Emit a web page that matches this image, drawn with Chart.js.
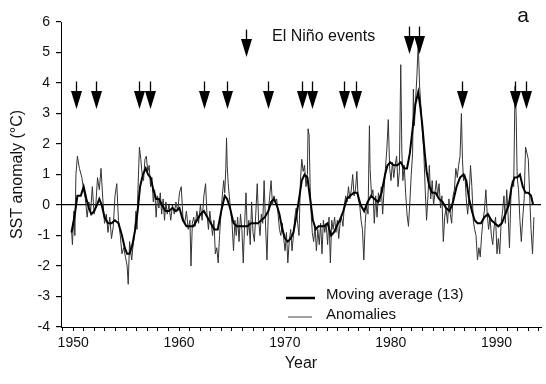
<!DOCTYPE html>
<html>
<head>
<meta charset="utf-8">
<title>SST anomaly</title>
<script src="https://cdn.jsdelivr.net/npm/chart.js@4.4.0/dist/chart.umd.min.js"></script>
<style>
  html, body { margin: 0; padding: 0; background: #fff; }
  #wrap { width: 546px; height: 384px; }
</style>
</head>
<body>
<div id="wrap"><canvas id="sstChart" width="546" height="384"></canvas></div>
<script>
// SST anomaly series (years as decimal years)

const anomYears = [
  1949.84, 1949.93, 1950.07, 1950.16, 1950.26, 1950.40, 1950.59, 1950.82, 1950.99,
  1951.15, 1951.32, 1951.48, 1951.65, 1951.81, 1951.98,
  1952.14, 1952.30, 1952.47, 1952.63, 1952.80, 1952.96,
  1953.13, 1953.29, 1953.46, 1953.62, 1953.79, 1953.95,
  1954.12, 1954.28, 1954.45, 1954.61, 1954.77, 1954.94,
  1955.10, 1955.20, 1955.33, 1955.53, 1955.66, 1955.80, 1955.93,
  1956.03, 1956.12, 1956.26, 1956.39, 1956.52, 1956.65, 1956.78, 1956.91,
  1957.05, 1957.18, 1957.31, 1957.44, 1957.57, 1957.70, 1957.84, 1957.97,
  1958.10, 1958.23, 1958.36, 1958.50, 1958.63, 1958.76, 1958.89,
  1959.05, 1959.22, 1959.38, 1959.55, 1959.71, 1959.88,
  1960.04, 1960.21, 1960.37, 1960.54, 1960.70, 1960.87,
  1961.03, 1961.13, 1961.26, 1961.39, 1961.52, 1961.69, 1961.85,
  1962.02, 1962.18, 1962.35, 1962.51, 1962.64, 1962.78, 1962.91,
  1963.04, 1963.17, 1963.30, 1963.43, 1963.57, 1963.70, 1963.83, 1963.96,
  1964.09, 1964.22, 1964.32, 1964.42, 1964.49, 1964.55, 1964.65, 1964.75, 1964.88,
  1965.01, 1965.15, 1965.28, 1965.41, 1965.54, 1965.67, 1965.81, 1965.94,
  1966.07, 1966.20, 1966.33, 1966.46, 1966.60, 1966.73, 1966.86, 1966.99,
  1967.12, 1967.25, 1967.39, 1967.52, 1967.65, 1967.78, 1967.91,
  1968.04, 1968.18, 1968.31, 1968.44, 1968.57, 1968.70, 1968.83, 1968.97,
  1969.10, 1969.23, 1969.36, 1969.49, 1969.62, 1969.76, 1969.89,
  1970.02, 1970.15, 1970.28, 1970.41, 1970.55, 1970.68, 1970.81, 1970.94,
  1971.07, 1971.21, 1971.34, 1971.47, 1971.60, 1971.73, 1971.86,
  1972.00, 1972.13, 1972.19, 1972.29, 1972.39, 1972.49, 1972.59, 1972.72, 1972.85, 1972.98,
  1973.11, 1973.25, 1973.38, 1973.51, 1973.64, 1973.77, 1973.90,
  1974.04, 1974.17, 1974.30, 1974.43, 1974.56, 1974.70, 1974.83, 1974.96,
  1975.09, 1975.22, 1975.35, 1975.49, 1975.62, 1975.75, 1975.88,
  1976.01, 1976.14, 1976.28, 1976.41, 1976.54, 1976.67, 1976.80, 1976.93,
  1977.07, 1977.20, 1977.33, 1977.46, 1977.59, 1977.72, 1977.86, 1977.99,
  1978.05, 1978.19, 1978.32, 1978.45, 1978.58, 1978.71, 1978.84, 1978.98,
  1979.11, 1979.24, 1979.37, 1979.50, 1979.63, 1979.77, 1979.90,
  1980.03, 1980.16, 1980.29, 1980.42, 1980.56, 1980.69, 1980.82, 1980.95,
  1981.05, 1981.15, 1981.28, 1981.41, 1981.54, 1981.68, 1981.81, 1981.94,
  1982.07, 1982.14, 1982.24, 1982.33, 1982.47, 1982.60, 1982.73, 1982.86, 1982.99,
  1983.12, 1983.26, 1983.39, 1983.52, 1983.65, 1983.78, 1983.92,
  1984.05, 1984.18, 1984.31, 1984.44, 1984.57, 1984.71, 1984.84, 1984.97,
  1985.10, 1985.23, 1985.37, 1985.50, 1985.63, 1985.76, 1985.89,
  1986.02, 1986.15, 1986.29, 1986.42, 1986.55, 1986.68, 1986.78, 1986.88,
  1987.01, 1987.14, 1987.27, 1987.41, 1987.54, 1987.67, 1987.80, 1987.93,
  1988.06, 1988.20, 1988.33, 1988.46, 1988.59, 1988.72, 1988.85, 1988.99,
  1989.12, 1989.25, 1989.38, 1989.51, 1989.64, 1989.78, 1989.91,
  1990.04, 1990.17, 1990.30, 1990.43, 1990.57, 1990.70, 1990.83, 1990.96,
  1991.09, 1991.22, 1991.36, 1991.49, 1991.62, 1991.75, 1991.85, 1991.95,
  1992.08, 1992.21, 1992.34, 1992.48, 1992.61, 1992.74, 1992.87,
  1993.00, 1993.13, 1993.26, 1993.40, 1993.53
];

const anomValues = [
  -0.8, -1.3, -0.2, -1.0, 1.0, 1.6, 1.2, 0.9, 0.5,
  0.2, -0.4, 0.1, -0.2, 0.6, -0.3,
  0.0, 0.9, 0.5, 1.2, 0.2, -0.6,
  -0.3, -0.9, -0.4, -1.1, -0.7, 0.3,
  0.7, -0.5, -1.0, -1.6, -1.4, -1.7,
  -2.0, -2.6, -1.2, -1.8, -1.3, -1.0, -0.2,
  -0.8, 0.5, 1.9, 1.5, 1.0, 0.8, 1.5, 1.6,
  1.1, 1.3, 0.6, 0.9, 0.1, 0.5, -0.4, 0.3,
  -0.1, 0.4, -0.3, 0.2, -0.5, 0.1, -0.3,
  0.0, -0.5, 0.0, -0.3, 0.1, -0.2,
  0.4, 0.6, -0.4, -0.6, -0.2, -0.8,
  -0.5, -2.0, -0.6, -0.4, -0.7, -0.2, -0.6,
  0.0, -0.5, 0.3, 0.7, -0.3, -0.8, -0.2,
  -0.6, -1.0, -0.5, -1.6, -1.4, -1.9, -1.0, -0.3,
  0.3, 0.8, 0.4, 1.2, 2.2, 1.3, 0.7, 0.3, -0.2,
  -0.6, -1.5, -0.5, -1.0, -0.4, -1.2, -0.3, -0.8,
  -1.9, -0.6, 0.4, -1.0, -0.5, -1.3, 0.1, -0.9,
  -1.2, -0.3, 0.7, -0.5, -1.0, -0.3, -0.6,
  0.8, -0.7, -1.8, -0.2, 0.3, 0.8, 0.0, 0.3,
  0.1, 0.2, -0.3, -0.8, -1.0, -0.6, -1.1,
  -1.5, -0.9, -1.9, -1.2, -0.8, -1.5, -1.0, -0.4,
  -0.1, -0.6, -1.0, 0.8, 1.5, 1.1, 1.3,
  0.6, 1.0, 2.5, 2.3, 0.6, -0.3, -0.9, -1.2, -0.7, -1.5,
  -0.8, -1.3, -0.6, -1.6, -0.5, -0.9, -0.6,
  -1.3, -0.4, -1.9, -0.5, -0.8, -0.4, -0.9, -0.5,
  -1.1, -0.6, -0.4, -0.7, 0.0, 0.3, 0.1,
  0.6, 0.2, 0.5, 1.0, 0.3, 0.5, 1.1, 0.2,
  0.0, -0.5, -0.8, -1.8, -0.6, 0.0, -0.3, 2.6,
  1.2, 0.3, 0.5, -0.6, 0.3, -0.4, 0.4, 0.1,
  0.6, -0.3, 0.5, 1.2, 1.8, 2.8, 1.2,
  0.8, 1.4, 0.9, 1.3, 1.6, 0.6, 1.1, 4.6,
  1.8, 0.8, 1.3, 0.4, -0.3, -0.7, 0.1, 1.0,
  1.7, 3.8, 2.6, 3.3, 4.2, 5.3, 3.9, 3.2, 2.4,
  1.8, 0.5, -0.5, 0.3, 1.3, 0.2, 0.8,
  0.0, 0.4, 0.8, 0.3, 0.7, -0.1, 0.3, -1.2,
  -0.4, -0.1, -0.6, 0.2, -0.3, -0.6, 0.3,
  0.5, 1.2, 0.9, 1.3, 1.6, 3.0, 1.5, 0.8,
  1.0, 0.2, -0.3, 0.3, 1.3, 0.6, -0.5, -0.8,
  -1.0, -1.8, -1.4, -1.7, -1.0, -0.5, -0.2, 0.5,
  -0.3, -0.8, -0.4, -1.0, -1.3, -0.7, -0.4,
  -1.6, -1.1, -1.6, -0.6, -0.2, 0.3, -0.6, 0.5,
  -0.3, -1.4, 0.3, 0.8, 0.6, 3.9, 3.0, 0.9,
  0.5, -0.5, -1.2, -0.4, 0.2, 1.9, 1.7,
  1.5, 0.3, -0.8, -1.6, -0.4
];

// 13-point moving average
const maYears = [
  1949.84, 1950.16, 1950.40, 1950.72, 1950.99,
  1951.25, 1951.48, 1951.71, 1951.98,
  1952.24, 1952.47, 1952.70, 1952.96,
  1953.29, 1953.62, 1953.95,
  1954.28, 1954.61, 1954.87,
  1955.10, 1955.33, 1955.60, 1955.86,
  1956.09, 1956.32, 1956.59, 1956.85,
  1957.08, 1957.31, 1957.57, 1957.84,
  1958.10, 1958.40, 1958.73,
  1959.05, 1959.38, 1959.71,
  1960.04, 1960.37, 1960.70,
  1961.03, 1961.36, 1961.69,
  1962.02, 1962.35, 1962.68,
  1963.01, 1963.34, 1963.66, 1963.99,
  1964.32, 1964.55, 1964.82,
  1965.15, 1965.48, 1965.81,
  1966.13, 1966.46, 1966.79,
  1967.12, 1967.45, 1967.78,
  1968.11, 1968.44, 1968.70, 1968.97,
  1969.23, 1969.49, 1969.76,
  1970.02, 1970.28, 1970.55, 1970.81,
  1971.07, 1971.34, 1971.60, 1971.86,
  1972.13, 1972.39, 1972.65, 1972.92,
  1973.18, 1973.44, 1973.71,
  1974.04, 1974.37, 1974.63, 1974.89,
  1975.19, 1975.52, 1975.85,
  1976.18, 1976.51, 1976.84,
  1977.16, 1977.49, 1977.82,
  1978.15, 1978.48, 1978.81,
  1979.14, 1979.47, 1979.70, 1979.96,
  1980.29, 1980.62, 1980.95,
  1981.28, 1981.54, 1981.81,
  1982.07, 1982.33, 1982.60, 1982.80, 1982.99,
  1983.19, 1983.39, 1983.65, 1983.92,
  1984.24, 1984.57, 1984.90,
  1985.23, 1985.56, 1985.89,
  1986.22, 1986.55, 1986.88,
  1987.14, 1987.41, 1987.67, 1987.93,
  1988.20, 1988.53, 1988.85,
  1989.18, 1989.51, 1989.84,
  1990.17, 1990.50, 1990.83,
  1991.16, 1991.42, 1991.69, 1991.95,
  1992.21, 1992.48, 1992.74,
  1993.00, 1993.26, 1993.46
];

const maValues = [
  -0.9, -0.3, 0.3, 0.3, 0.6,
  0.2, -0.1, -0.3, -0.2,
  0.0, 0.2, 0.0, -0.4,
  -0.6, -0.6, -0.5,
  -0.6, -1.0, -1.4,
  -1.6, -1.6, -1.3, -0.8,
  -0.2, 0.6, 1.0, 1.2,
  1.0, 0.9, 0.5, 0.2,
  0.2, 0.0, -0.2,
  -0.2, -0.1, -0.2,
  -0.1, -0.5, -0.7,
  -0.7, -0.7, -0.5,
  -0.3, -0.2, -0.4,
  -0.6, -0.8, -0.8, -0.2,
  0.3, 0.2, -0.1,
  -0.6, -0.7, -0.7,
  -0.7, -0.7, -0.6,
  -0.6, -0.6, -0.5,
  -0.4, -0.2, 0.1, 0.2,
  0.0, -0.3, -0.8,
  -1.1, -1.2, -1.1, -0.9,
  -0.4, 0.2, 0.8, 1.0,
  0.9, 0.2, -0.5, -0.8,
  -0.7, -0.7, -0.7,
  -0.6, -1.0, -0.9, -0.7,
  -0.5, -0.2, 0.2,
  0.3, 0.4, 0.4,
  0.0, -0.2, 0.1,
  0.3, 0.2, 0.1,
  0.4, 1.0, 1.3, 1.4,
  1.3, 1.3, 1.4,
  1.2, 1.2, 1.7,
  2.5, 3.3, 3.7, 3.2, 2.6,
  1.8, 1.1, 0.6, 0.4,
  0.4, 0.2, 0.1,
  -0.1, -0.2, 0.1,
  0.6, 0.9, 1.0,
  0.8, 0.2, -0.2, -0.5,
  -0.6, -0.6, -0.4,
  -0.3, -0.5, -0.6,
  -0.7, -0.6, -0.3,
  0.0, 0.6, 0.9, 0.9,
  1.0, 0.6, 0.4,
  0.4, 0.3, 0.0
];

// El Niño event arrows: position, top of the stem, tip of the head (°C)
const arrowYears = [1950.3, 1952.2, 1956.2, 1957.3, 1962.4, 1964.5, 1966.3, 1968.4, 1971.6,
  1972.6, 1975.6, 1976.7, 1981.7, 1982.7, 1986.7, 1991.7, 1992.8];
const arrowTops = [4.05, 4.05, 4.05, 4.05, 4.05, 4.05, 5.75, 4.05, 4.05,
  4.05, 4.05, 4.05, 5.85, 5.85, 4.05, 4.05, 4.05];
const arrowTips = [3.15, 3.15, 3.15, 3.15, 3.15, 3.15, 4.85, 3.15, 3.15,
  3.15, 3.15, 3.15, 4.95, 4.95, 3.15, 3.15, 3.15];

const decadeLabels = [1950, 1960, 1970, 1980, 1990];
const yTicks = [-4, -3, -2, -1, 0, 1, 2, 3, 4, 5, 6];
const seriesNames = ['Moving average (13)', 'Anomalies'];

if (anomYears.length !== anomValues.length || maYears.length !== maValues.length) {
  throw new Error('length mismatch ' + anomYears.length + '/' + anomValues.length + ' ' + maYears.length + '/' + maValues.length);
}

const toPoints = (xs, ys) => xs.map((x, i) => ({ x: x, y: ys[i] }));

const FONT = "'Liberation Sans', Arial, Helvetica, sans-serif";
Chart.defaults.font.family = FONT;
Chart.defaults.color = '#111';

// arrows, panel letter, header text and legend
const annotations = {
  id: 'annotations',
  afterDatasetsDraw(chart) {
    const { ctx, scales: { x, y } } = chart;
    ctx.save();
    ctx.fillStyle = '#000';
    ctx.strokeStyle = '#000';
    ctx.lineWidth = 1.3;
    arrowYears.forEach((yr, i) => {
      const px = Math.round(x.getPixelForValue(yr)) + 0.5;
      const top = y.getPixelForValue(arrowTops[i]);
      const tip = y.getPixelForValue(arrowTips[i]);
      const headH = 18, halfW = 5.5;
      ctx.beginPath();
      ctx.moveTo(px, top);
      ctx.lineTo(px, tip - headH + 1);
      ctx.stroke();
      ctx.beginPath();
      ctx.moveTo(px - halfW, tip - headH);
      ctx.lineTo(px + halfW, tip - headH);
      ctx.lineTo(px, tip);
      ctx.closePath();
      ctx.fill();
    });

    ctx.fillStyle = '#111';
    ctx.textBaseline = 'middle';
    ctx.textAlign = 'left';
    ctx.font = '16px ' + FONT;
    ctx.fillText('El Niño events', 272, 37);
    ctx.font = '21px ' + FONT;
    ctx.textAlign = 'center';
    ctx.fillText('a', 523, 16);

    // legend
    ctx.textAlign = 'left';
    ctx.font = '15px ' + FONT;
    ctx.strokeStyle = '#000';
    ctx.lineWidth = 2.5;
    ctx.beginPath(); ctx.moveTo(286, 298); ctx.lineTo(315, 298); ctx.stroke();
    ctx.fillText(seriesNames[0], 326, 295);
    ctx.strokeStyle = '#666';
    ctx.lineWidth = 1.2;
    ctx.beginPath(); ctx.moveTo(288, 317); ctx.lineTo(312, 317); ctx.stroke();
    ctx.fillText(seriesNames[1], 326, 315);
    ctx.restore();
  }
};

const ctx = document.getElementById('sstChart').getContext('2d');
new Chart(ctx, {
  type: 'line',
  data: {
    datasets: [{
      label: seriesNames[0],
      data: toPoints(maYears, maValues),
      borderColor: '#000',
      borderWidth: 2,
      pointRadius: 0,
      tension: 0
    }, {
      label: seriesNames[1],
      data: toPoints(anomYears, anomValues),
      borderColor: '#333',
      borderWidth: 1,
      pointRadius: 0,
      tension: 0
    }]
  },
  options: {
    responsive: false,
    animation: false,
    layout: { padding: { left: 0, top: 22, right: 5, bottom: 0 } },
    plugins: { legend: { display: false }, tooltip: { enabled: false } },
    scales: {
      x: {
        type: 'linear',
        min: 1948.85,
        max: 1994.2,
        afterBuildTicks: (scale) => {
          const t = [];
          for (let yr = 1949; yr <= 1994; yr++) t.push({ value: yr });
          scale.ticks = t;
        },
        afterFit: (scale) => { scale.height = 57; },
        ticks: {
          autoSkip: false,
          maxRotation: 0,
          padding: 4,
          font: { size: 14 },
          color: '#111',
          callback: (v) => decadeLabels.includes(v) ? String(v) : ''
        },
        grid: { display: true, drawOnChartArea: false, drawTicks: true, tickLength: 4, tickColor: '#000' },
        border: { display: true, color: '#000', width: 1 },
        title: { display: true, text: 'Year', font: { size: 16 }, color: '#111', padding: { top: 0, bottom: 11 } }
      },
      y: {
        min: -4,
        max: 6,
        afterBuildTicks: (scale) => { scale.ticks = yTicks.map(v => ({ value: v })); },
        afterFit: (scale) => { scale.width = 61; },
        ticks: { padding: 6, font: { size: 14 }, color: '#111' },
        grid: {
          display: true,
          drawOnChartArea: true,
          drawTicks: true,
          tickLength: 5,
          tickColor: '#000',
          color: (c) => (c.tick && c.tick.value === 0) ? '#000' : 'rgba(0,0,0,0)',
          lineWidth: 1.2
        },
        border: { display: true, color: '#000', width: 1 },
        title: { display: true, text: 'SST anomaly (°C)', font: { size: 16 }, color: '#111', padding: { top: 8, bottom: 0 } }
      }
    }
  },
  plugins: [annotations]
});
</script>
</body>
</html>
